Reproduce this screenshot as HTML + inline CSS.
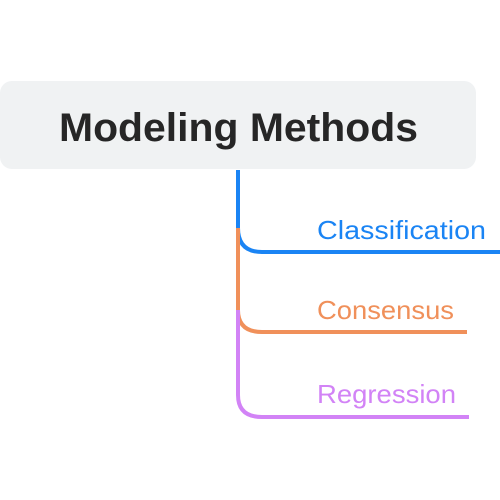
<!DOCTYPE html>
<html><head><meta charset="utf-8"><style>html,body{margin:0;padding:0;background:#fff}</style></head>
<body>
<svg width="500" height="500" xmlns="http://www.w3.org/2000/svg" style="display:block">
<rect x="0" y="81" width="476" height="88" rx="12" fill="#f0f2f3"/>
<text x="59" y="141" font-family="Liberation Sans, sans-serif" font-weight="bold" font-size="40" fill="#262626" textLength="359" lengthAdjust="spacingAndGlyphs">Modeling Methods</text>
<g fill="none" stroke-width="4">
<path d="M238 170 V228 Q238 252 262 252 H500" stroke="#1a84f4"/>
<path d="M238 228 V310 Q238 332 262 332 H467" stroke="#f0905a"/>
<path d="M238 310 V395 Q238 417 262 417 H469" stroke="#d283f6"/>
</g>
<g font-family="Liberation Sans, sans-serif" font-size="26">
<text x="317" y="239" fill="#1a84f4" textLength="169" lengthAdjust="spacingAndGlyphs">Classification</text>
<text x="317" y="319" fill="#f0905a" textLength="137" lengthAdjust="spacingAndGlyphs">Consensus</text>
<text x="317" y="403" fill="#d283f6" textLength="139" lengthAdjust="spacingAndGlyphs">Regression</text>
</g>
</svg>
</body></html>
